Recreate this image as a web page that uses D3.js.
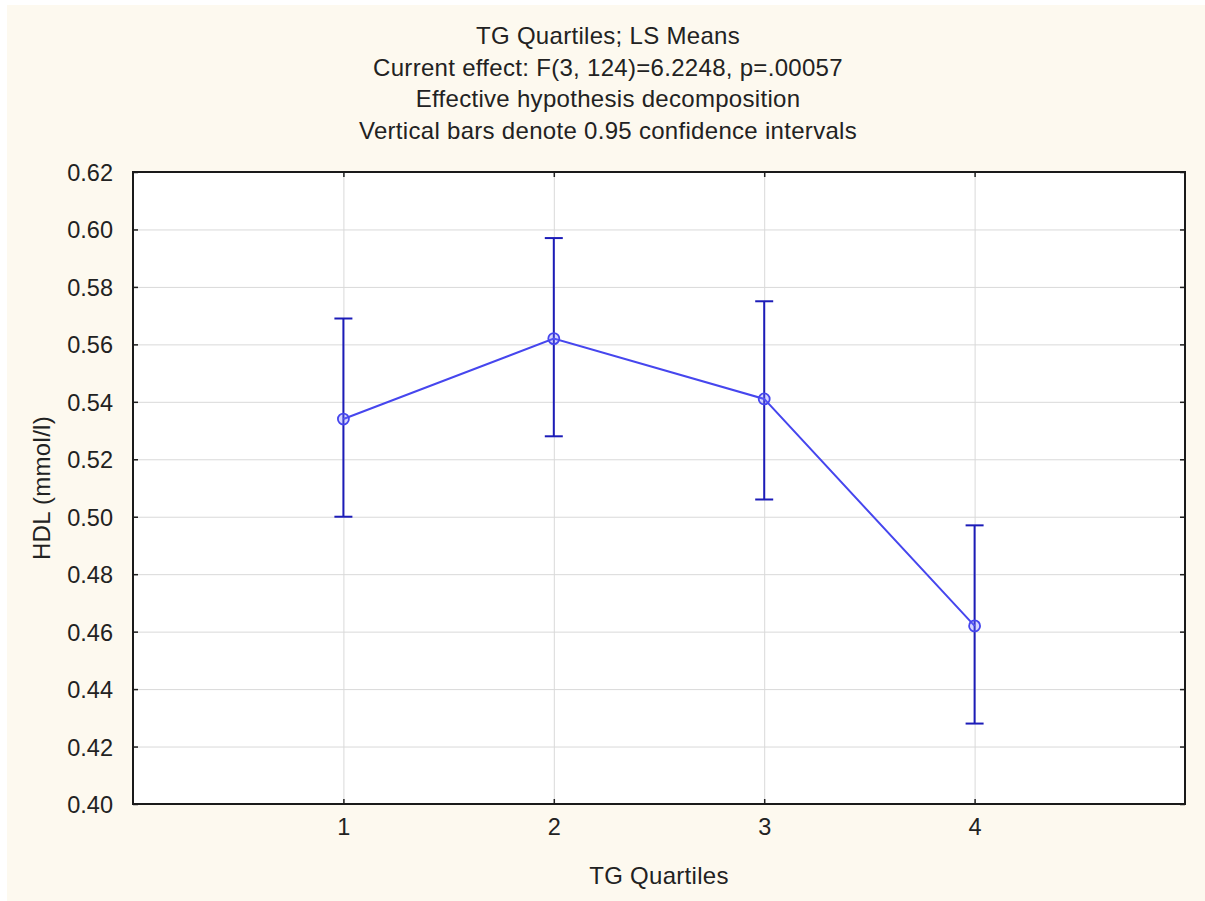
<!DOCTYPE html>
<html>
<head>
<meta charset="utf-8">
<script src="https://cdn.jsdelivr.net/npm/d3@7"></script>
<style>
	html, body { margin: 0; padding: 0; background: #ffffff; }
	svg { display: block; font-family: "Liberation Sans", Arial, sans-serif; }
</style>
</head>
<body>
<svg id="chart" width="1205" height="901"></svg>
<script>
/* Data */

var quartiles = [1, 2, 3, 4];
var lsMeans = [0.534, 0.562, 0.541, 0.462];
var ciLower = [0.500, 0.528, 0.506, 0.428];
var ciUpper = [0.569, 0.597, 0.575, 0.497];
var yTickValues = [0.40, 0.42, 0.44, 0.46, 0.48, 0.50, 0.52, 0.54, 0.56, 0.58, 0.60, 0.62];
var titleLines = [
	"TG Quartiles; LS Means",
	"Current effect: F(3, 124)=6.2248, p=.00057",
	"Effective hypothesis decomposition",
	"Vertical bars denote 0.95 confidence intervals"
];
var xTitle = "TG Quartiles";
var yTitle = "HDL (mmol/l)";

/* Layout */

var W = 1205, H = 901;
var plot = { left: 133, right: 1185, top: 172, bottom: 804 };
var fontSize = 24;
var tickFontSize = 23.5;
var textColor = "#222";

var svg = d3.select("#chart");

// Cream page with the thin white strip on the left and top edges.
svg.append("rect").attr("x", 7).attr("y", 5)
	.attr("width", W - 7).attr("height", H - 5)
	.attr("fill", "#fdf9ef");

var x = d3.scaleLinear().domain([0, 5]).range([plot.left, plot.right]);
var y = d3.scaleLinear().domain([0.40, 0.62]).range([plot.bottom, plot.top]);

// Plot background
svg.append("rect")
	.attr("x", plot.left).attr("y", plot.top)
	.attr("width", plot.right - plot.left).attr("height", plot.bottom - plot.top)
	.attr("fill", "#ffffff");

// Grid lines, drawn with the axis generators (long inner ticks, no labels).
function styleGrid(g) {
	g.select(".domain").remove();
	g.selectAll("line").attr("stroke", "#d9d9d9").attr("stroke-width", 1);
}

svg.append("g")
	.attr("transform", "translate(" + plot.left + ",0)")
	.call(d3.axisLeft(y).tickValues(yTickValues)
		.tickSize(-(plot.right - plot.left)).tickFormat(""))
	.call(styleGrid);

svg.append("g")
	.attr("transform", "translate(0," + plot.bottom + ")")
	.call(d3.axisBottom(x).tickValues(quartiles)
		.tickSize(-(plot.bottom - plot.top)).tickFormat(""))
	.call(styleGrid);

// Axes with short inward ticks on all four sides.
function styleAxis(g) {
	g.select(".domain").remove();
	g.selectAll("line").attr("stroke", textColor).attr("stroke-width", 1.5);
	g.selectAll("text")
		.attr("fill", textColor)
		.style("font-size", tickFontSize + "px")
		.style("font-family", "'Liberation Sans', Arial, sans-serif");
}

svg.append("g")
	.attr("transform", "translate(" + plot.left + ",0)")
	.call(d3.axisLeft(y).tickValues(yTickValues)
		.tickFormat(d3.format(".2f")).tickSize(-5).tickPadding(20))
	.call(styleAxis)
	.call(function (g) { g.selectAll("text").attr("dy", "0.36em"); });

svg.append("g")
	.attr("transform", "translate(" + plot.right + ",0)")
	.call(d3.axisRight(y).tickValues(yTickValues).tickSize(-5).tickFormat(""))
	.call(styleAxis);

svg.append("g")
	.attr("transform", "translate(0," + plot.bottom + ")")
	.call(d3.axisBottom(x).tickValues(quartiles)
		.tickFormat(d3.format("d")).tickSize(-5).tickPadding(14))
	.call(styleAxis);

svg.append("g")
	.attr("transform", "translate(0," + plot.top + ")")
	.call(d3.axisTop(x).tickValues(quartiles).tickSize(-5).tickFormat(""))
	.call(styleAxis);

// Plot frame
svg.append("rect")
	.attr("x", plot.left).attr("y", plot.top)
	.attr("width", plot.right - plot.left).attr("height", plot.bottom - plot.top)
	.attr("fill", "none").attr("stroke", "#1a1a1a").attr("stroke-width", 2);

/* Series */

var points = quartiles.map(function (q, i) {
	return { q: q, mean: lsMeans[i], lo: ciLower[i], hi: ciUpper[i] };
});

var capHalf = 9;
var barColor = "#1c1cb8";
var lineColor = "#4646ee";

var bars = svg.append("g").selectAll("g.errbar").data(points).enter()
	.append("g").classed("errbar", true)
	.attr("stroke", barColor).attr("stroke-width", 2);

bars.append("line")
	.attr("x1", function (d) { return x(d.q); })
	.attr("x2", function (d) { return x(d.q); })
	.attr("y1", function (d) { return y(d.lo); })
	.attr("y2", function (d) { return y(d.hi); });

bars.append("line")
	.attr("x1", function (d) { return x(d.q) - capHalf; })
	.attr("x2", function (d) { return x(d.q) + capHalf; })
	.attr("y1", function (d) { return y(d.hi); })
	.attr("y2", function (d) { return y(d.hi); });

bars.append("line")
	.attr("x1", function (d) { return x(d.q) - capHalf; })
	.attr("x2", function (d) { return x(d.q) + capHalf; })
	.attr("y1", function (d) { return y(d.lo); })
	.attr("y2", function (d) { return y(d.lo); });

svg.append("path")
	.datum(points)
	.attr("fill", "none")
	.attr("stroke", lineColor)
	.attr("stroke-width", 2)
	.attr("d", d3.line()
		.x(function (d) { return x(d.q); })
		.y(function (d) { return y(d.mean); }));

svg.append("g").selectAll("circle").data(points).enter()
	.append("circle")
	.attr("cx", function (d) { return x(d.q); })
	.attr("cy", function (d) { return y(d.mean); })
	.attr("r", 5.5)
	.attr("fill", "rgba(120,120,255,0.3)")
	.attr("stroke", lineColor)
	.attr("stroke-width", 1.8);

/* Titles */

svg.append("g").selectAll("text").data(titleLines).enter()
	.append("text")
	.attr("x", 608)
	.attr("y", function (d, i) { return 44 + i * 31.5; })
	.attr("text-anchor", "middle")
	.attr("fill", textColor)
	.style("font-size", fontSize + "px")
	.style("letter-spacing", "0.3px")
	.text(function (d) { return d; });

svg.append("text")
	.attr("x", (plot.left + plot.right) / 2)
	.attr("y", 884)
	.attr("text-anchor", "middle")
	.attr("fill", textColor)
	.style("font-size", fontSize + "px")
	.style("letter-spacing", "0.3px")
	.text(xTitle);

svg.append("text")
	.attr("transform", "translate(50," + (plot.top + plot.bottom) / 2 + ") rotate(-90)")
	.attr("text-anchor", "middle")
	.attr("fill", textColor)
	.style("font-size", fontSize + "px")
	.style("letter-spacing", "0.3px")
	.text(yTitle);
</script>
</body>
</html>
